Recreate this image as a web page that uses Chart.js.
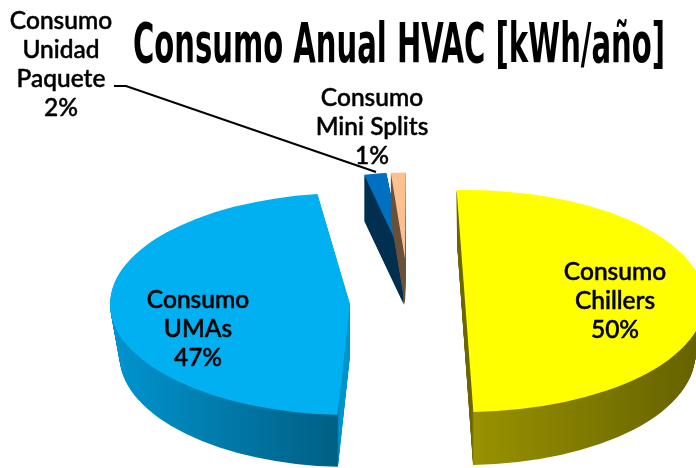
<!DOCTYPE html>
<html>
<head>
<meta charset="utf-8">
<style>
  html, body { margin: 0; padding: 0; background: #fff; overflow: hidden; }
  canvas { display: block; }
</style>
<script src="https://cdn.jsdelivr.net/npm/chart.js@4/dist/chart.umd.min.js"></script>
</head>
<body>
<canvas id="chart" width="696" height="468"></canvas>
<script>
const chartTitle = 'Consumo Anual HVAC [kWh/año]';
const categories = ['Consumo Chillers', 'Consumo UMAs', 'Consumo Unidad Paquete', 'Consumo Mini Splits'];
const values = [50, 47, 2, 1];
const topColors = ['#ffff00', '#00b0f0', '#0070c0', '#fac090'];

// where each exploded slice sits and how it is squashed (the pie is drawn tilted)
const sliceViews = [
    { x: 465, y: 301, sx: 1, sy: 0.4625, rot: 0, depth: 53, taper: 0.04 },
    { x: 350, y: 304, sx: 1, sy: 0.4625, rot: 5, depth: 52, taper: 0.04 },
    { x: 404, y: 259, sx: 0.75, sy: 0.36, rot: 0, depth: 46, taper: 0 },
    { x: 405, y: 259, sx: 1, sy: 0.36, rot: 2.2, depth: 46, taper: 0 }
];
// side wall colours as [pageX, colour] stops
const sideStops = [
    [[450, '#6b6600'], [472, '#6b6600'], [474, '#989200'], [696, '#666200']],
    [[110, '#0095d0'], [337, '#005f84'], [339, '#0094cc'], [352, '#0094cc']],
    [[360, '#002f50'], [405, '#002f50']],
    [[385, '#6b5038'], [410, '#6b5038']]
];
const labelBlocks = [
    { lines: ['Consumo', 'Chillers', '50%'], x: 615, y: 272 },
    { lines: ['Consumo', 'UMAs', '47%'], x: 198, y: 300 },
    { lines: ['Consumo', 'Unidad', 'Paquete', '2%'], x: 61, y: 21 },
    { lines: ['Consumo', 'Mini Splits', '1%'], x: 372, y: 98 }
];

const tiltedPie = {
    id: 'tiltedPie',
    beforeDatasetsDraw(chart) {
        const ctx = chart.ctx;
        const arcs = chart.getDatasetMeta(0).data;
        const place = (arc, v, d) => {
            const shrink = 1 - v.taper * d / v.depth;
            ctx.translate(v.x, v.y + d);
            ctx.scale(v.sx * shrink, v.sy);
            ctx.rotate(v.rot * Math.PI / 180);
            ctx.translate(-arc.x, -arc.y);
        };
        arcs.forEach((arc, i) => {
            const v = sliceViews[i];
            const base = arc.options;
            // side wall: stack of copies going down
            const stops = sideStops[i];
            const x0 = stops[0][0], x1 = stops[stops.length - 1][0];
            for (let d = v.depth; d >= 1; d--) {
                ctx.save();
                place(arc, v, d);
                const ux = x => (x - v.x) / (v.sx * (1 - v.taper * d / v.depth));
                // undo the rotation so the gradient stays horizontal on the page
                const a = -v.rot * Math.PI / 180;
                const grad = ctx.createLinearGradient(
                    arc.x + ux(x0) * Math.cos(a), arc.y + ux(x0) * Math.sin(a),
                    arc.x + ux(x1) * Math.cos(a), arc.y + ux(x1) * Math.sin(a));
                stops.forEach(s => grad.addColorStop((s[0] - x0) / (x1 - x0), s[1]));
                arc.options = Object.assign({}, base, { backgroundColor: grad });
                arc.draw(ctx);
                arc.options = base;
                ctx.restore();
            }
            ctx.save();
            place(arc, v, 0);
            arc.draw(ctx);
            ctx.restore();
        });
        return false;
    },
    afterDraw(chart) {
        const ctx = chart.ctx;
        ctx.save();
        // leader line for Unidad Paquete
        ctx.strokeStyle = '#000';
        ctx.lineWidth = 2;
        ctx.beginPath();
        ctx.moveTo(114, 86);
        ctx.lineTo(126, 86);
        ctx.lineTo(376, 172);
        ctx.stroke();
        // slice labels
        ctx.fillStyle = '#000';
        ctx.textAlign = 'center';
        ctx.textBaseline = 'middle';
        ctx.lineJoin = 'round';
        ctx.font = '500 24.5px Lato, "Open Sans", sans-serif';
        ctx.lineWidth = 0.5;
        labelBlocks.forEach(b => {
            b.lines.forEach((line, n) => {
                ctx.fillText(line, b.x, b.y + n * 29);
                ctx.strokeText(line, b.x, b.y + n * 29);
            });
        });
        // title
        ctx.font = 'bold 56px "Liberation Sans Narrow", "DejaVu Sans Condensed", sans-serif';
        ctx.fillText(chartTitle, 399, 47, 532);
        ctx.restore();
    }
};

new Chart(document.getElementById('chart'), {
    type: 'pie',
    data: {
        labels: categories,
        datasets: [{ data: values, backgroundColor: topColors, borderWidth: 0 }]
    },
    options: {
        responsive: false,
        animation: false,
        radius: 240,
        rotation: -2,
        plugins: { legend: { display: false }, tooltip: { enabled: false } }
    },
    plugins: [tiltedPie]
});
</script>
</body>
</html>
